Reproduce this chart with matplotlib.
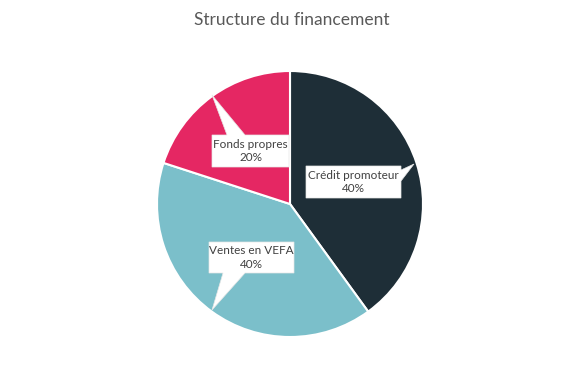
import numpy as np
import matplotlib.pyplot as plt
from matplotlib.patches import Polygon

# datos
categorias = ['Crédit promoteur', 'Ventes en VEFA', 'Fonds propres']
valores = [40, 40, 20]
colores = ['#1e2e37', '#7bbfca', '#e52763']
titulo = 'Structure du financement'

W, H = 584, 370
fig = plt.figure(figsize=(W / 100, H / 100), dpi=100)
ax = fig.add_axes([0, 0, 1, 1])

cx, cy, r = 290, H - 204, 133
ax.pie(valores, colors=colores, startangle=90, counterclock=False,
       center=(cx, cy), radius=r,
       wedgeprops=dict(edgecolor='white', linewidth=1.5))
ax.set_xlim(0, W)
ax.set_ylim(0, H)
ax.set_aspect('equal')
ax.axis('off')


# bulle: (x0, y0, x1, y1) en pixels depuis le haut, pointe et base sur un cote
def bulle(box, tip, side, b0, b1):
    x0, y0, x1, y1 = box
    if side == 'top':
        pts = [(x0, y0), (b0, y0), tip, (b1, y0), (x1, y0), (x1, y1), (x0, y1)]
    elif side == 'bottom':
        pts = [(x0, y0), (x1, y0), (x1, y1), (b1, y1), tip, (b0, y1), (x0, y1)]
    else:  # right
        pts = [(x0, y0), (x1, y0), (x1, b0), tip, (x1, b1), (x1, y1), (x0, y1)]
    pts = [(px, H - py) for px, py in pts]
    ax.add_patch(Polygon(pts, closed=True, facecolor='white',
                         edgecolor='#e6e6e6', linewidth=0.5, zorder=5))


bulles = [
    ((306, 166, 401, 198), (414, 164), 'right', 170, 181),
    ((209, 242, 294, 273), (212, 310), 'bottom', 223, 245),
    ((212, 135, 289, 167), (212, 95), 'top', 227, 245),
]

for (box, tip, side, b0, b1), cat, v in zip(bulles, categorias, valores):
    bulle(box, tip, side, b0, b1)
    x0, y0, x1, y1 = box
    ax.text((x0 + x1) / 2, H - (y0 + y1) / 2, f'{cat}\n{v}%',
            ha='center', va='center', fontsize=8.5, color='#404040',
            family='Lato', linespacing=1.3, zorder=6)

ax.text(W / 2, H - 20, titulo, ha='center', va='center',
        fontsize=12.5, color='#595959', family='Lato')

fig.savefig('out.png', dpi=100)
